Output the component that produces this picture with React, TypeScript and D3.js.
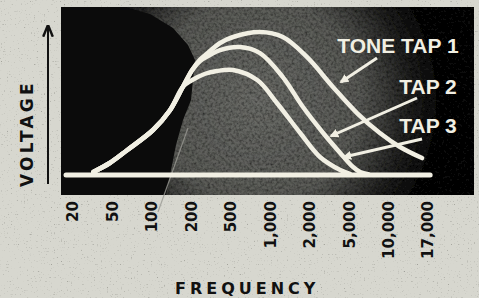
import React from "react";
import * as d3 from "d3";

const freqTicks = [20, 50, 100, 200, 500, 1000, 2000, 5000, 10000, 17000];
const tickLabels = ["20", "50", "100", "200", "500", "1,000", "2,000", "5,000", "10,000", "17,000"];

const riseFreq = [32, 47, 65, 102, 137, 173];
const riseVolt = [2, 8, 16.7, 30, 43, 59];

const tap1Freq = [204, 245, 289, 390, 521, 835, 1248, 1905, 3434, 5743, 8585, 11665, 15700];
const tap1Volt = [70, 77, 81, 88, 92, 95.3, 92, 78.7, 58.7, 41.3, 28, 18.7, 11.3];

const tap2Freq = [204, 245, 308, 390, 587, 835, 1248, 1778, 2735, 4064, 5359, 6070, 7000];
const tap2Volt = [70, 76, 80, 83.3, 85.3, 81.3, 65.3, 45.3, 28, 14.7, 5.3, 2, 0.6];

const tap3Freq = [200, 276, 362, 520, 796, 1125, 1693, 2540, 4064, 5070];
const tap3Volt = [63, 67.5, 69.3, 70, 63.3, 48, 28, 12, 3.3, 0.7];

const baseFreq = [17, 17500];
const baseVolt = [0, 0];

const seriesLabels = ["TONE TAP 1", "TAP 2", "TAP 3"];

const W = 479;
const H = 298;

export default function App() {
  const idx = d3.scaleLog().domain(freqTicks).range(d3.range(freqTicks.length));
  const px = d3.scaleLinear().domain([0, freqTicks.length - 1]).range([73, 428]);
  const x = (f: number) => px(idx(f));
  const y = d3.scaleLinear().domain([0, 100]).range([175, 25]);

  const line = d3
    .line<[number, number]>()
    .x((d) => x(d[0]))
    .y((d) => y(d[1]))
    .curve(d3.curveCatmullRom.alpha(0.5));

  const zip = (fs: number[], vs: number[]) => fs.map((f, i) => [f, vs[i]] as [number, number]);
  const rise = zip(riseFreq, riseVolt);
  const t1 = rise.concat(zip(tap1Freq, tap1Volt));
  const t2 = rise.concat(zip(tap2Freq, tap2Volt));
  const t3 = rise.concat(zip(tap3Freq, tap3Volt));
  const base = zip(baseFreq, baseVolt);

  const cream = "#f1efe3";
  const darkPoly = "61,7 125,7 150,14 173,28 188,45 195,60 191,100 183,120 176,145 170,175 166,195 61,195";

  const arrows = [
    { x1: 377, y1: 58, x2: 341, y2: 82 },
    { x1: 417, y1: 98, x2: 331, y2: 136 },
    { x1: 422, y1: 139, x2: 344, y2: 157 },
  ];
  const labelPos = [
    { x: 398, y: 53 },
    { x: 428, y: 94 },
    { x: 428, y: 133 },
  ];

  return (
    <svg
      width={W}
      height={H}
      style={{ position: "absolute", left: 0, top: 0, display: "block" }}
      fontFamily="'DejaVu Sans', sans-serif"
    >
      <defs>
        <radialGradient id="glow" cx="258" cy="100" r="185" gradientUnits="userSpaceOnUse">
          <stop offset="0" stopColor="#6a6b67" />
          <stop offset="0.55" stopColor="#5a5b57" />
          <stop offset="0.82" stopColor="#222221" />
          <stop offset="1" stopColor="#0d0d0d" />
        </radialGradient>
        <marker id="ah" viewBox="0 0 10 10" refX="8" refY="5" markerWidth="9" markerHeight="9" markerUnits="userSpaceOnUse" orient="auto">
          <path d="M0,0 L10,5 L0,10 z" fill={cream} />
        </marker>
        <marker id="ahb" viewBox="0 0 10 10" refX="9" refY="5" markerWidth="12" markerHeight="12" markerUnits="userSpaceOnUse" orient="auto">
          <path d="M0,1 L10,5 L0,9" fill="none" stroke="#111" strokeWidth="2" />
        </marker>
        <filter id="grain" x="0" y="0" width="100%" height="100%">
          <feTurbulence type="fractalNoise" baseFrequency="0.38" numOctaves="2" seed="7" result="n" />
          <feColorMatrix
            in="n"
            type="matrix"
            values="0 0 0 0 0  0 0 0 0 0  0 0 0 0 0  1.4 0 0 0 -0.5"
            result="a"
          />
          <feComposite in="a" in2="SourceGraphic" operator="in" result="c" />
          <feMerge>
            <feMergeNode in="SourceGraphic" />
            <feMergeNode in="c" />
          </feMerge>
        </filter>
        <filter id="paper" x="0" y="0" width="100%" height="100%">
          <feTurbulence type="fractalNoise" baseFrequency="0.7" numOctaves="1" seed="11" result="n" />
          <feColorMatrix
            in="n"
            type="matrix"
            values="0 0 0 0 0.25  0 0 0 0 0.25  0 0 0 0 0.22  4 0 0 0 -2.6"
            result="a"
          />
          <feComposite in="a" in2="SourceGraphic" operator="in" result="c" />
          <feMerge>
            <feMergeNode in="SourceGraphic" />
            <feMergeNode in="c" />
          </feMerge>
        </filter>
      </defs>

      {/* background paper */}
      <rect x={0} y={0} width={W} height={H} fill="#d7d7cf" filter="url(#paper)" />

      {/* panel */}
      <rect x={61} y={7} width={413} height={188} fill="url(#glow)" filter="url(#grain)" />
      <polygon points={darkPoly} fill="#0b0b0b" />
      {/* scratch line */}
      <line x1={188} y1={128} x2={158} y2={212} stroke="#9a9a94" strokeWidth={1.2} opacity={0.8} />

      {/* baseline */}
      <path d={line(base) || ""} fill="none" stroke={cream} strokeWidth={5} strokeLinecap="round" />

      {/* curves */}
      <path d={line(t3) || ""} fill="none" stroke={cream} strokeWidth={4.5} strokeLinecap="round" />
      <path d={line(t2) || ""} fill="none" stroke={cream} strokeWidth={4.5} strokeLinecap="round" />
      <path d={line(t1) || ""} fill="none" stroke={cream} strokeWidth={4.5} strokeLinecap="round" />

      {/* annotation arrows */}
      {arrows.map((a, i) => (
        <line key={i} x1={a.x1} y1={a.y1} x2={a.x2} y2={a.y2} stroke={cream} strokeWidth={3} markerEnd="url(#ah)" />
      ))}
      {seriesLabels.map((s, i) => (
        <text
          key={s}
          x={labelPos[i].x}
          y={labelPos[i].y}
          textAnchor="middle"
          fill={cream}
          fontFamily="'Liberation Sans', Arial, sans-serif"
          fontWeight="bold"
          fontSize={21}
        >
          {s}
        </text>
      ))}

      {/* x tick labels */}
      {tickLabels.map((t, i) => (
        <text
          key={t}
          transform={`translate(${x(freqTicks[i])},201) rotate(-90)`}
          textAnchor="end"
          dy="0.36em"
          fontWeight="bold"
          fontSize={15}
          fill="#111"
        >
          {t}
        </text>
      ))}

      {/* y axis arrow + label */}
      <line x1={48} y1={184} x2={48} y2={26} stroke="#111" strokeWidth={2} markerEnd="url(#ahb)" />
      <text
        transform="translate(27,187) rotate(-90)"
        dy="0.36em"
        fontWeight="bold"
        fontSize={17}
        letterSpacing={3.2}
        fill="#111"
      >
        VOLTAGE
      </text>

      <text x={175} y={294} fontWeight="bold" fontSize={16} letterSpacing={4} fill="#111">
        FREQUENCY
      </text>
    </svg>
  );
}
